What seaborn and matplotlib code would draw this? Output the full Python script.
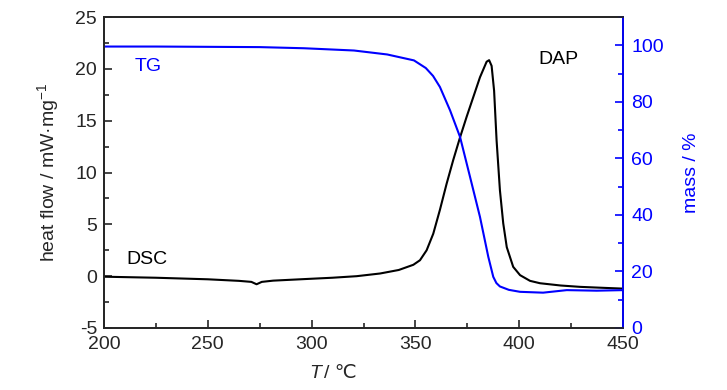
"""DSC / TG curves of DAP"""

import numpy as np
import pandas as pd
import matplotlib
matplotlib.use("Agg")
import matplotlib.pyplot as plt
from matplotlib.ticker import MultipleLocator
import seaborn as sns

# DSC heat flow (mW/mg) vs temperature
dsc_T = [200, 225, 250, 265, 271, 273.5, 276, 281.5, 297.6, 310, 321.7, 333, 342, 349,
         352.2, 355.4, 358.6, 361.8, 365, 368.2, 371.5, 374.7, 377.9, 381.1, 384.3,
         385.5, 386.7, 387.9, 389.1, 390.7, 392.3, 394, 397.1, 400.4, 405.2, 410, 420,
         429.3, 440, 450]
dsc_hf = [-0.05, -0.15, -0.3, -0.45, -0.55, -0.78, -0.55, -0.43, -0.27, -0.15, 0.0, 0.26,
          0.6, 1.1, 1.54, 2.5, 4.1, 6.4, 8.9, 11.2, 13.4, 15.4, 17.3, 19.2, 20.7,
          20.85, 20.3, 17.9, 13.1, 8.3, 5.1, 2.8, 0.9, 0.1, -0.45, -0.68, -0.9,
          -1.03, -1.12, -1.2]

# TG mass (%) vs temperature
tg_T = [200, 225, 250, 275, 296.3, 320.4, 336.4, 349.3, 355, 358.5, 361.8, 366.7, 371.5,
        376.3, 381.1, 385.1, 387.5, 389, 390.7, 395, 400.4, 411.5, 422.9, 437.3, 450]
tg_mass = [99.6, 99.6, 99.5, 99.4, 99.0, 98.2, 96.8, 94.7, 92.0, 89.2, 85.3, 77.0, 67.6,
           53.5, 39.3, 25.2, 18.1, 15.9, 14.7, 13.5, 12.8, 12.5, 13.4, 13.2, 13.4]

dsc = pd.DataFrame({"T": dsc_T, "hf": dsc_hf})
tg = pd.DataFrame({"T": tg_T, "mass": tg_mass})

sns.set_style("ticks")
plt.rcParams["font.family"] = ["Liberation Sans", "DejaVu Sans"]
plt.rcParams["axes.unicode_minus"] = False
plt.rcParams["mathtext.fontset"] = "custom"
plt.rcParams["mathtext.it"] = "Liberation Sans:italic"
plt.rcParams["mathtext.rm"] = "Liberation Sans"

blue = "#0000ff"
fs = 14

fig = plt.figure(figsize=(7.27, 3.90), dpi=100)
ax = fig.add_axes([0.143, 0.159, 0.714, 0.797])
ax2 = ax.twinx()

sns.lineplot(data=dsc, x="T", y="hf", ax=ax, color="black", lw=1.5)
sns.lineplot(data=tg, x="T", y="mass", ax=ax2, color=blue, lw=1.5)

ax.set_xlim(200, 450)
ax.set_ylim(-5, 25)
ax2.set_ylim(0, 110)

ax.xaxis.set_major_locator(MultipleLocator(50))
ax.xaxis.set_minor_locator(MultipleLocator(25))
ax.yaxis.set_major_locator(MultipleLocator(5))
ax.yaxis.set_minor_locator(MultipleLocator(2.5))
ax2.yaxis.set_major_locator(MultipleLocator(20))
ax2.yaxis.set_minor_locator(MultipleLocator(10))

for a in (ax, ax2):
    a.tick_params(which="major", direction="in", length=6, width=1.2, labelsize=fs)
    a.tick_params(which="minor", direction="in", length=3.5, width=1.2)
    for s in a.spines.values():
        s.set_linewidth(1.3)
ax.tick_params(axis="x", which="both", top=False, pad=6)
ax.tick_params(axis="y", which="both", right=False, pad=5)
ax2.tick_params(axis="y", which="both", colors=blue, labelcolor=blue, pad=6)
ax2.spines["right"].set_color(blue)

# x label: italic T plus "/ ℃" (plain text so the ℃ glyph falls back to DejaVu)
ax.set_xlabel("")
ax.text(0.418, -0.145, "T", transform=ax.transAxes, fontsize=fs, style="italic",
        ha="right", va="center")
ax.text(0.424, -0.145, "/ ℃", transform=ax.transAxes, fontsize=fs,
        ha="left", va="center")
ax.set_ylabel("heat flow / mW·mg$^{-1}$", fontsize=fs, labelpad=10)
ax2.set_ylabel("mass / %", fontsize=fs, color=blue, labelpad=14)

ax.text(215, 20.2, "TG", color=blue, fontsize=fs, va="center")
ax.text(211, 1.6, "DSC", color="black", fontsize=fs, va="center")
ax.text(409, 20.9, "DAP", color="black", fontsize=fs, va="center")

fig.savefig("out.png", dpi=100)
